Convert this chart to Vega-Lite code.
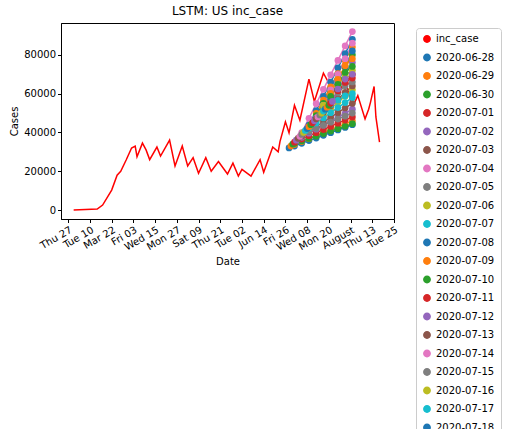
{
  "$schema": "https://vega.github.io/schema/vega-lite/v6.json",
  "width": 333,
  "height": 196,
  "autosize": "none",
  "padding": {"left": 61, "top": 23, "right": 123, "bottom": 210},
  "title": {"text": "LSTM: US inc_case", "fontSize": 12, "fontWeight": "normal", "font": "DejaVu Sans", "color": "black", "offset": 5},
  "datasets": {
    "actual": [
      {"d": "2020-03-01", "v": 0}, {"d": "2020-03-14", "v": 500}, {"d": "2020-03-17", "v": 2600},
      {"d": "2020-03-22", "v": 10300}, {"d": "2020-03-25", "v": 18000}, {"d": "2020-03-27", "v": 20000},
      {"d": "2020-03-30", "v": 25800}, {"d": "2020-04-02", "v": 32000}, {"d": "2020-04-04", "v": 33000},
      {"d": "2020-04-05", "v": 27500}, {"d": "2020-04-08", "v": 34500}, {"d": "2020-04-10", "v": 31000},
      {"d": "2020-04-12", "v": 26000}, {"d": "2020-04-16", "v": 32500}, {"d": "2020-04-18", "v": 27800},
      {"d": "2020-04-23", "v": 36000}, {"d": "2020-04-26", "v": 22700}, {"d": "2020-04-30", "v": 33000},
      {"d": "2020-05-03", "v": 22700}, {"d": "2020-05-06", "v": 27000}, {"d": "2020-05-09", "v": 19000},
      {"d": "2020-05-13", "v": 27000}, {"d": "2020-05-16", "v": 20000}, {"d": "2020-05-20", "v": 25000},
      {"d": "2020-05-25", "v": 18600}, {"d": "2020-05-28", "v": 24200}, {"d": "2020-05-31", "v": 17500},
      {"d": "2020-06-02", "v": 21000}, {"d": "2020-06-07", "v": 17500}, {"d": "2020-06-12", "v": 26000},
      {"d": "2020-06-14", "v": 19500}, {"d": "2020-06-19", "v": 32500}, {"d": "2020-06-22", "v": 30000},
      {"d": "2020-06-23", "v": 35300}, {"d": "2020-06-26", "v": 45500}, {"d": "2020-06-28", "v": 39800},
      {"d": "2020-07-01", "v": 54000}, {"d": "2020-07-04", "v": 46300}, {"d": "2020-07-09", "v": 67500},
      {"d": "2020-07-12", "v": 56000}, {"d": "2020-07-17", "v": 70500}, {"d": "2020-07-22", "v": 62000},
      {"d": "2020-07-30", "v": 63500}, {"d": "2020-08-02", "v": 53000}, {"d": "2020-08-05", "v": 59000},
      {"d": "2020-08-09", "v": 47000}, {"d": "2020-08-11", "v": 52000}, {"d": "2020-08-12", "v": 55500},
      {"d": "2020-08-14", "v": 63700}, {"d": "2020-08-15", "v": 48000}, {"d": "2020-08-17", "v": 35000}
    ],
    "forecast": [
      {"s": "2020-06-28", "d": "2020-06-28", "v": 32000}, {"s": "2020-06-28", "d": "2020-07-01", "v": 33000}, {"s": "2020-06-28", "d": "2020-07-05", "v": 34400}, {"s": "2020-06-28", "d": "2020-07-09", "v": 35800}, {"s": "2020-06-28", "d": "2020-07-13", "v": 37100}, {"s": "2020-06-28", "d": "2020-07-17", "v": 38500}, {"s": "2020-06-28", "d": "2020-07-21", "v": 39900}, {"s": "2020-06-28", "d": "2020-07-25", "v": 41300}, {"s": "2020-06-28", "d": "2020-07-29", "v": 42600}, {"s": "2020-06-28", "d": "2020-08-02", "v": 44000},
      {"s": "2020-06-29", "d": "2020-06-29", "v": 33000}, {"s": "2020-06-29", "d": "2020-07-01", "v": 33800}, {"s": "2020-06-29", "d": "2020-07-05", "v": 35300}, {"s": "2020-06-29", "d": "2020-07-09", "v": 36800}, {"s": "2020-06-29", "d": "2020-07-13", "v": 38400}, {"s": "2020-06-29", "d": "2020-07-17", "v": 39900}, {"s": "2020-06-29", "d": "2020-07-21", "v": 41400}, {"s": "2020-06-29", "d": "2020-07-25", "v": 42900}, {"s": "2020-06-29", "d": "2020-07-29", "v": 44500}, {"s": "2020-06-29", "d": "2020-08-02", "v": 46000},
      {"s": "2020-06-30", "d": "2020-06-30", "v": 34000}, {"s": "2020-06-30", "d": "2020-07-01", "v": 34300}, {"s": "2020-06-30", "d": "2020-07-05", "v": 35600}, {"s": "2020-06-30", "d": "2020-07-09", "v": 36900}, {"s": "2020-06-30", "d": "2020-07-13", "v": 38100}, {"s": "2020-06-30", "d": "2020-07-17", "v": 39400}, {"s": "2020-06-30", "d": "2020-07-21", "v": 40700}, {"s": "2020-06-30", "d": "2020-07-25", "v": 41900}, {"s": "2020-06-30", "d": "2020-07-29", "v": 43200}, {"s": "2020-06-30", "d": "2020-08-02", "v": 44500},
      {"s": "2020-07-01", "d": "2020-07-01", "v": 35000}, {"s": "2020-07-01", "d": "2020-07-05", "v": 36600}, {"s": "2020-07-01", "d": "2020-07-09", "v": 38300}, {"s": "2020-07-01", "d": "2020-07-13", "v": 39900}, {"s": "2020-07-01", "d": "2020-07-17", "v": 41500}, {"s": "2020-07-01", "d": "2020-07-21", "v": 43100}, {"s": "2020-07-01", "d": "2020-07-25", "v": 44800}, {"s": "2020-07-01", "d": "2020-07-29", "v": 46400}, {"s": "2020-07-01", "d": "2020-08-02", "v": 48000},
      {"s": "2020-07-02", "d": "2020-07-02", "v": 36000}, {"s": "2020-07-02", "d": "2020-07-05", "v": 37500}, {"s": "2020-07-02", "d": "2020-07-09", "v": 39600}, {"s": "2020-07-02", "d": "2020-07-13", "v": 41700}, {"s": "2020-07-02", "d": "2020-07-17", "v": 43700}, {"s": "2020-07-02", "d": "2020-07-21", "v": 45800}, {"s": "2020-07-02", "d": "2020-07-25", "v": 47900}, {"s": "2020-07-02", "d": "2020-07-29", "v": 49900}, {"s": "2020-07-02", "d": "2020-08-02", "v": 52000},
      {"s": "2020-07-03", "d": "2020-07-03", "v": 37000}, {"s": "2020-07-03", "d": "2020-07-05", "v": 38200}, {"s": "2020-07-03", "d": "2020-07-09", "v": 40600}, {"s": "2020-07-03", "d": "2020-07-13", "v": 43000}, {"s": "2020-07-03", "d": "2020-07-17", "v": 45400}, {"s": "2020-07-03", "d": "2020-07-21", "v": 47800}, {"s": "2020-07-03", "d": "2020-07-25", "v": 50200}, {"s": "2020-07-03", "d": "2020-07-29", "v": 52600}, {"s": "2020-07-03", "d": "2020-08-02", "v": 55000},
      {"s": "2020-07-04", "d": "2020-07-04", "v": 38000}, {"s": "2020-07-04", "d": "2020-07-05", "v": 39900}, {"s": "2020-07-04", "d": "2020-07-09", "v": 47300}, {"s": "2020-07-04", "d": "2020-07-13", "v": 54800}, {"s": "2020-07-04", "d": "2020-07-17", "v": 62200}, {"s": "2020-07-04", "d": "2020-07-21", "v": 69700}, {"s": "2020-07-04", "d": "2020-07-25", "v": 77100}, {"s": "2020-07-04", "d": "2020-07-29", "v": 84600}, {"s": "2020-07-04", "d": "2020-08-02", "v": 92000},
      {"s": "2020-07-05", "d": "2020-07-05", "v": 39000}, {"s": "2020-07-05", "d": "2020-07-09", "v": 40600}, {"s": "2020-07-05", "d": "2020-07-13", "v": 42100}, {"s": "2020-07-05", "d": "2020-07-17", "v": 43700}, {"s": "2020-07-05", "d": "2020-07-21", "v": 45300}, {"s": "2020-07-05", "d": "2020-07-25", "v": 46900}, {"s": "2020-07-05", "d": "2020-07-29", "v": 48400}, {"s": "2020-07-05", "d": "2020-08-02", "v": 50000},
      {"s": "2020-07-06", "d": "2020-07-06", "v": 40000}, {"s": "2020-07-06", "d": "2020-07-09", "v": 42400}, {"s": "2020-07-06", "d": "2020-07-13", "v": 45700}, {"s": "2020-07-06", "d": "2020-07-17", "v": 49000}, {"s": "2020-07-06", "d": "2020-07-21", "v": 52200}, {"s": "2020-07-06", "d": "2020-07-25", "v": 55500}, {"s": "2020-07-06", "d": "2020-07-29", "v": 58700}, {"s": "2020-07-06", "d": "2020-08-02", "v": 62000},
      {"s": "2020-07-07", "d": "2020-07-07", "v": 41000}, {"s": "2020-07-07", "d": "2020-07-09", "v": 42300}, {"s": "2020-07-07", "d": "2020-07-13", "v": 44900}, {"s": "2020-07-07", "d": "2020-07-17", "v": 47500}, {"s": "2020-07-07", "d": "2020-07-21", "v": 50200}, {"s": "2020-07-07", "d": "2020-07-25", "v": 52800}, {"s": "2020-07-07", "d": "2020-07-29", "v": 55400}, {"s": "2020-07-07", "d": "2020-08-02", "v": 58000},
      {"s": "2020-07-08", "d": "2020-07-08", "v": 42000}, {"s": "2020-07-08", "d": "2020-07-09", "v": 43800}, {"s": "2020-07-08", "d": "2020-07-13", "v": 51200}, {"s": "2020-07-08", "d": "2020-07-17", "v": 58600}, {"s": "2020-07-08", "d": "2020-07-21", "v": 65900}, {"s": "2020-07-08", "d": "2020-07-25", "v": 73300}, {"s": "2020-07-08", "d": "2020-07-29", "v": 80600}, {"s": "2020-07-08", "d": "2020-08-02", "v": 88000},
      {"s": "2020-07-09", "d": "2020-07-09", "v": 43000}, {"s": "2020-07-09", "d": "2020-07-13", "v": 49800}, {"s": "2020-07-09", "d": "2020-07-17", "v": 56700}, {"s": "2020-07-09", "d": "2020-07-21", "v": 63500}, {"s": "2020-07-09", "d": "2020-07-25", "v": 70300}, {"s": "2020-07-09", "d": "2020-07-29", "v": 77200}, {"s": "2020-07-09", "d": "2020-08-02", "v": 84000},
      {"s": "2020-07-10", "d": "2020-07-10", "v": 44000}, {"s": "2020-07-10", "d": "2020-07-13", "v": 48700}, {"s": "2020-07-10", "d": "2020-07-17", "v": 55000}, {"s": "2020-07-10", "d": "2020-07-21", "v": 61200}, {"s": "2020-07-10", "d": "2020-07-25", "v": 67500}, {"s": "2020-07-10", "d": "2020-07-29", "v": 73700}, {"s": "2020-07-10", "d": "2020-08-02", "v": 80000},
      {"s": "2020-07-11", "d": "2020-07-11", "v": 45000}, {"s": "2020-07-11", "d": "2020-07-13", "v": 47300}, {"s": "2020-07-11", "d": "2020-07-17", "v": 51800}, {"s": "2020-07-11", "d": "2020-07-21", "v": 56400}, {"s": "2020-07-11", "d": "2020-07-25", "v": 60900}, {"s": "2020-07-11", "d": "2020-07-29", "v": 65500}, {"s": "2020-07-11", "d": "2020-08-02", "v": 70000},
      {"s": "2020-07-12", "d": "2020-07-12", "v": 46000}, {"s": "2020-07-12", "d": "2020-07-13", "v": 47400}, {"s": "2020-07-12", "d": "2020-07-17", "v": 53100}, {"s": "2020-07-12", "d": "2020-07-21", "v": 58900}, {"s": "2020-07-12", "d": "2020-07-25", "v": 64600}, {"s": "2020-07-12", "d": "2020-07-29", "v": 70300}, {"s": "2020-07-12", "d": "2020-08-02", "v": 76000},
      {"s": "2020-07-13", "d": "2020-07-13", "v": 47000}, {"s": "2020-07-13", "d": "2020-07-17", "v": 50400}, {"s": "2020-07-13", "d": "2020-07-21", "v": 53800}, {"s": "2020-07-13", "d": "2020-07-25", "v": 57200}, {"s": "2020-07-13", "d": "2020-07-29", "v": 60600}, {"s": "2020-07-13", "d": "2020-08-02", "v": 64000},
      {"s": "2020-07-14", "d": "2020-07-14", "v": 48000}, {"s": "2020-07-14", "d": "2020-07-17", "v": 54000}, {"s": "2020-07-14", "d": "2020-07-21", "v": 62000}, {"s": "2020-07-14", "d": "2020-07-25", "v": 70000}, {"s": "2020-07-14", "d": "2020-07-29", "v": 78000}, {"s": "2020-07-14", "d": "2020-08-02", "v": 86000},
      {"s": "2020-07-15", "d": "2020-07-15", "v": 49000}, {"s": "2020-07-15", "d": "2020-07-17", "v": 52800}, {"s": "2020-07-15", "d": "2020-07-21", "v": 56600}, {"s": "2020-07-15", "d": "2020-07-25", "v": 60300}, {"s": "2020-07-15", "d": "2020-07-29", "v": 64100}, {"s": "2020-07-15", "d": "2020-08-02", "v": 66000},
      {"s": "2020-07-16", "d": "2020-07-16", "v": 50000}, {"s": "2020-07-16", "d": "2020-07-17", "v": 53900}, {"s": "2020-07-16", "d": "2020-07-21", "v": 59100}, {"s": "2020-07-16", "d": "2020-07-25", "v": 64200}, {"s": "2020-07-16", "d": "2020-07-29", "v": 69400}, {"s": "2020-07-16", "d": "2020-08-02", "v": 72000},
      {"s": "2020-07-17", "d": "2020-07-17", "v": 51000}, {"s": "2020-07-17", "d": "2020-07-21", "v": 54400}, {"s": "2020-07-17", "d": "2020-07-25", "v": 56600}, {"s": "2020-07-17", "d": "2020-07-29", "v": 58900}, {"s": "2020-07-17", "d": "2020-08-02", "v": 60000},
      {"s": "2020-07-18", "d": "2020-07-18", "v": 52000}, {"s": "2020-07-18", "d": "2020-07-21", "v": 58000}, {"s": "2020-07-18", "d": "2020-07-25", "v": 66000}, {"s": "2020-07-18", "d": "2020-07-29", "v": 74000}, {"s": "2020-07-18", "d": "2020-08-02", "v": 82000},
      {"s": "2020-07-19", "d": "2020-07-19", "v": 53000}, {"s": "2020-07-19", "d": "2020-07-21", "v": 60100}, {"s": "2020-07-19", "d": "2020-07-25", "v": 67300}, {"s": "2020-07-19", "d": "2020-07-29", "v": 74400}, {"s": "2020-07-19", "d": "2020-08-02", "v": 78000},
      {"s": "2020-07-20", "d": "2020-07-20", "v": 54000}, {"s": "2020-07-20", "d": "2020-07-21", "v": 58600}, {"s": "2020-07-20", "d": "2020-07-25", "v": 64800}, {"s": "2020-07-20", "d": "2020-07-29", "v": 70900}, {"s": "2020-07-20", "d": "2020-08-02", "v": 74000},
      {"s": "2020-07-21", "d": "2020-07-21", "v": 55000}, {"s": "2020-07-21", "d": "2020-07-25", "v": 61500}, {"s": "2020-07-21", "d": "2020-07-29", "v": 65800}, {"s": "2020-07-21", "d": "2020-08-02", "v": 68000},
      {"s": "2020-07-22", "d": "2020-07-22", "v": 56000}, {"s": "2020-07-22", "d": "2020-07-25", "v": 62400}, {"s": "2020-07-22", "d": "2020-07-29", "v": 67500}, {"s": "2020-07-22", "d": "2020-08-02", "v": 70000}
    ]
  },
  "encoding": {
    "x": {
      "field": "d", "type": "temporal", "title": "Date",
      "scale": {"type": "utc", "domain": ["2020-02-23", "2020-08-25"]},
      "axis": {
        "values": ["2020-02-27", "2020-03-10", "2020-03-22", "2020-04-03", "2020-04-15", "2020-04-27", "2020-05-09", "2020-05-21", "2020-06-02", "2020-06-14", "2020-06-26", "2020-07-08", "2020-07-20", "2020-08-01", "2020-08-13", "2020-08-25"],
        "format": "%Y-%m-%d", "formatType": "utc",
        "labelAngle": -30, "labelAlign": "right", "labelBaseline": "top", "labelOverlap": false
      }
    },
    "y": {
      "field": "v", "type": "quantitative", "title": "Cases",
      "scale": {"domain": [-4600, 96400], "nice": false, "zero": false},
      "axis": {"values": [0, 20000, 40000, 60000, 80000], "format": "d"}
    },
    "color": {
      "type": "nominal",
      "scale": {
        "domain": ["inc_case", "2020-06-28", "2020-06-29", "2020-06-30", "2020-07-01", "2020-07-02", "2020-07-03", "2020-07-04", "2020-07-05", "2020-07-06", "2020-07-07", "2020-07-08", "2020-07-09", "2020-07-10", "2020-07-11", "2020-07-12", "2020-07-13", "2020-07-14", "2020-07-15", "2020-07-16", "2020-07-17", "2020-07-18", "2020-07-19", "2020-07-20", "2020-07-21", "2020-07-22"],
        "range": ["#ff0000", "#1f77b4", "#ff7f0e", "#2ca02c", "#d62728", "#9467bd", "#8c564b", "#e377c2", "#7f7f7f", "#bcbd22", "#17becf", "#1f77b4", "#ff7f0e", "#2ca02c", "#d62728", "#9467bd", "#8c564b", "#e377c2", "#7f7f7f", "#bcbd22", "#17becf", "#1f77b4", "#ff7f0e", "#2ca02c", "#d62728", "#9467bd"]
      },
      "legend": {
        "title": null, "orient": "none", "legendX": 355, "legendY": 5,
        "symbolType": "circle", "symbolSize": 40, "labelFontSize": 10, "rowPadding": 4.5,
        "strokeColor": "#cccccc", "padding": 6, "cornerRadius": 3, "fillColor": "white"
      }
    }
  },
  "layer": [
    {
      "data": {"name": "actual"},
      "mark": {"type": "line", "strokeWidth": 1.5},
      "encoding": {"color": {"datum": "inc_case"}}
    },
    {
      "data": {"name": "forecast"},
      "mark": {"type": "line", "strokeWidth": 1.5, "point": {"filled": true, "size": 45, "opacity": 1}},
      "encoding": {"color": {"field": "s"}, "detail": {"field": "s"}}
    }
  ],
  "config": {
    "font": "DejaVu Sans",
    "view": {"stroke": "black", "strokeWidth": 1},
    "axis": {
      "grid": false, "domainColor": "black", "tickColor": "black", "tickSize": 3.5,
      "labelColor": "black", "labelFontSize": 10, "titleColor": "black", "titleFontSize": 10,
      "titleFontWeight": "normal", "labelFont": "DejaVu Sans", "titleFont": "DejaVu Sans"
    },
    "legend": {"labelColor": "black", "labelFont": "DejaVu Sans"}
  }
}
